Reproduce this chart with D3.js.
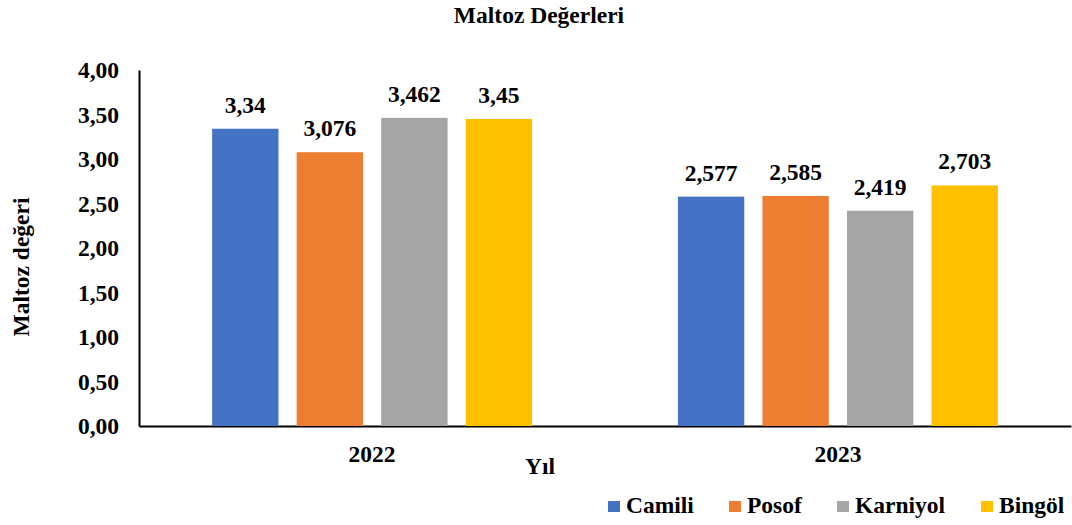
<!DOCTYPE html>
<html><head><meta charset="utf-8">
<script src="https://cdn.jsdelivr.net/npm/d3@7"></script>
<style>body{margin:0;background:#fff}svg{font-family:"Liberation Serif","Times New Roman",serif;font-weight:bold}</style>
</head><body><svg id="c" width="1072" height="525"></svg>
<script>
const years = ["2022", "2023"];
const seriesNames = ["Camili", "Posof", "Karniyol", "Bingöl"];
const camili = [3.34, 2.577];
const posof = [3.076, 2.585];
const karniyol = [3.462, 2.419];
const bingol = [3.45, 2.703];
const valueLabels = [["3,34", "2,577"], ["3,076", "2,585"], ["3,462", "2,419"], ["3,45", "2,703"]];
const yTicks = [0, 0.5, 1, 1.5, 2, 2.5, 3, 3.5, 4];
const colors = ["#4472C4", "#ED7D31", "#A5A5A5", "#FFC000"];
const series = [camili, posof, karniyol, bingol];

(function () {
const svg = d3.select("#c");
const mL = 139, mR = 1071, mT = 70, mB = 426;
const FS = 23.5;
const y = d3.scaleLinear().domain([0, 4]).range([mB, mT]);
const x0 = d3.scaleBand().domain(years).range([mL, mR]).paddingInner(0.313).paddingOuter(0.157);
const x1 = d3.scaleBand().domain(seriesNames).range([0, x0.bandwidth()]).paddingInner(0.215).paddingOuter(0);

svg.append("text").attr("x", 539).attr("y", 23).attr("text-anchor", "middle").attr("font-size", FS).text("Maltoz Değerleri");

const gy = svg.append("g").attr("transform", `translate(${mL},0)`)
  .call(d3.axisLeft(y).tickValues(yTicks).tickSize(0).tickPadding(20).tickFormat(d => d3.format(".2f")(d).replace(".", ",")));
gy.select(".domain").attr("stroke", "#000").attr("stroke-width", 2);
gy.selectAll("text").attr("font-size", FS).attr("font-family", "Liberation Serif").attr("font-weight", "bold").attr("fill", "#000");

const xOuter = d3.scaleBand().domain(years).range([mL, mR]);
const gx = svg.append("g").attr("transform", `translate(0,${mB})`)
  .call(d3.axisBottom(xOuter).tickSize(0).tickPadding(19));
gx.select(".domain").attr("stroke", "#000").attr("stroke-width", 2);
gx.selectAll("text").attr("font-size", FS).attr("font-family", "Liberation Serif").attr("font-weight", "bold").attr("fill", "#000");

const groups = svg.append("g");
series.forEach((vals, si) => {
  years.forEach((yr, yi) => {
    const bx = x0(yr) + x1(seriesNames[si]);
    groups.append("rect").attr("x", bx).attr("y", y(vals[yi])).attr("width", x1.bandwidth())
      .attr("height", y(0) - y(vals[yi])).attr("fill", colors[si]);
    groups.append("text").attr("x", bx + x1.bandwidth() / 2).attr("y", y(vals[yi]) - 16)
      .attr("text-anchor", "middle").attr("font-size", FS).text(valueLabels[si][yi]);
  });
});

svg.append("text").attr("transform", "translate(29,267) rotate(-90)").attr("text-anchor", "middle")
  .attr("font-size", FS).text("Maltoz değeri");
svg.append("text").attr("x", 540).attr("y", 474).attr("text-anchor", "middle").attr("font-size", FS).text("Yıl");

const legX = [608, 729, 837, 981];
seriesNames.forEach((n, i) => {
  svg.append("rect").attr("x", legX[i]).attr("y", 501).attr("width", 12).attr("height", 11).attr("fill", colors[i]);
  svg.append("text").attr("x", legX[i] + 18).attr("y", 513).attr("font-size", FS).text(n);
});
})();
</script></body></html>
